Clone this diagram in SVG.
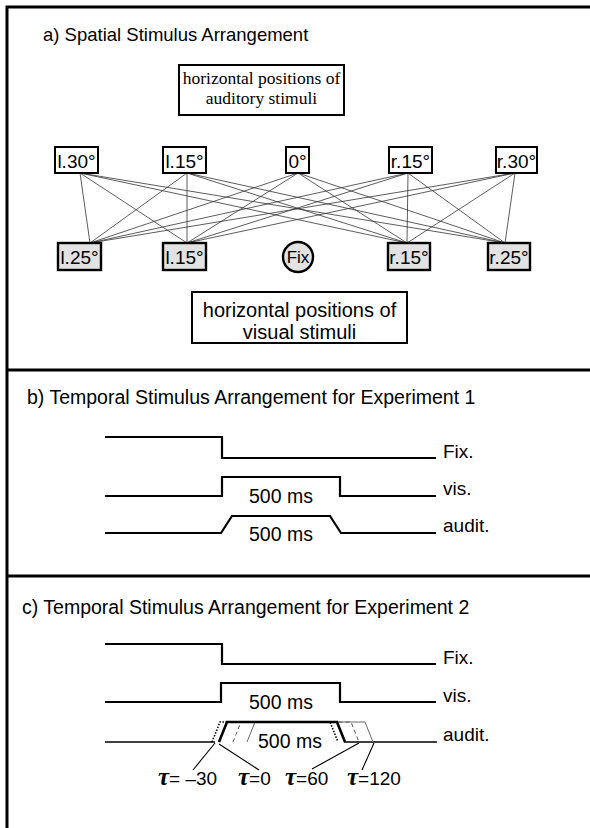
<svg xmlns="http://www.w3.org/2000/svg" width="590" height="828" viewBox="0 0 590 828">
<style>
.sans{font-family:"Liberation Sans",Arial,Helvetica,sans-serif;fill:#000}
.serif{font-family:"Liberation Serif","Times New Roman",serif;fill:#000}
.frame{stroke:#000;stroke-width:3;fill:none}
.aud rect{fill:#fff;stroke:#000;stroke-width:2}
.vis rect,.vis circle{fill:#e2e2e2;stroke:#000;stroke-width:2.4}
.conn line{stroke:#333;stroke-width:0.8}
.wave{fill:none;stroke:#000;stroke-width:2.2}
.lbl{font-size:19px}
.tau{font-family:"Liberation Serif","Times New Roman",serif;font-style:italic;font-weight:bold;font-size:25px}
</style>
<rect width="590" height="828" fill="#fff"/>
<g id="frame">
<path class="frame" d="M7,828 L7,7 L590,7"/>
<line class="frame" x1="7" y1="370" x2="590" y2="370"/>
<line class="frame" x1="7" y1="576" x2="590" y2="576"/>
</g>
<!-- section a -->
<text class="sans" x="43" y="41" font-size="18.5">a) Spatial Stimulus Arrangement</text>
<g id="aud-title">
<rect x="179" y="65" width="165" height="50" fill="#fff" stroke="#000" stroke-width="2"/>
<text class="serif" x="261.5" y="84" font-size="17.5" text-anchor="middle">horizontal positions of</text>
<text class="serif" x="261.5" y="104" font-size="17.5" text-anchor="middle">auditory stimuli</text>
</g>
<g id="connectors" class="conn">
<line x1="80" y1="173" x2="90" y2="243"/>
<line x1="80" y1="173" x2="187" y2="243"/>
<line x1="80" y1="173" x2="407" y2="243"/>
<line x1="80" y1="173" x2="505" y2="243"/>
<line x1="187" y1="173" x2="90" y2="243"/>
<line x1="187" y1="173" x2="187" y2="243"/>
<line x1="187" y1="173" x2="407" y2="243"/>
<line x1="187" y1="173" x2="505" y2="243"/>
<line x1="298" y1="173" x2="90" y2="243"/>
<line x1="298" y1="173" x2="187" y2="243"/>
<line x1="298" y1="173" x2="407" y2="243"/>
<line x1="298" y1="173" x2="505" y2="243"/>
<line x1="408" y1="173" x2="90" y2="243"/>
<line x1="408" y1="173" x2="187" y2="243"/>
<line x1="408" y1="173" x2="407" y2="243"/>
<line x1="408" y1="173" x2="505" y2="243"/>
<line x1="515" y1="173" x2="90" y2="243"/>
<line x1="515" y1="173" x2="187" y2="243"/>
<line x1="515" y1="173" x2="407" y2="243"/>
<line x1="515" y1="173" x2="505" y2="243"/>
</g>
<g id="aud-l30" class="aud"><rect x="55" y="147" width="43" height="26"/><text class="sans lbl" x="76.5" y="168" text-anchor="middle">l.30°</text></g>
<g id="aud-l15" class="aud"><rect x="163" y="147" width="43" height="26"/><text class="sans lbl" x="184.5" y="168" text-anchor="middle">l.15°</text></g>
<g id="aud-0" class="aud"><rect x="286" y="147" width="23" height="26"/><text class="sans lbl" x="297.5" y="168" text-anchor="middle">0°</text></g>
<g id="aud-r15" class="aud"><rect x="389" y="147" width="43" height="26"/><text class="sans lbl" x="410.5" y="168" text-anchor="middle">r.15°</text></g>
<g id="aud-r30" class="aud"><rect x="496" y="147" width="41" height="26"/><text class="sans lbl" x="516.5" y="168" text-anchor="middle">r.30°</text></g>
<g id="vis-l25" class="vis"><rect x="58" y="243" width="43" height="27"/><text class="sans lbl" x="79.5" y="264" text-anchor="middle">l.25°</text></g>
<g id="vis-l15" class="vis"><rect x="163" y="243" width="43" height="27"/><text class="sans lbl" x="184.5" y="264" text-anchor="middle">l.15°</text></g>
<g id="fix" class="vis"><circle cx="298" cy="257" r="15"/><text class="sans" x="298" y="263" font-size="17" text-anchor="middle">Fix</text></g>
<g id="vis-r15" class="vis"><rect x="388" y="243" width="42" height="27"/><text class="sans lbl" x="409" y="264" text-anchor="middle">r.15°</text></g>
<g id="vis-r25" class="vis"><rect x="488" y="243" width="42" height="27"/><text class="sans lbl" x="509" y="264" text-anchor="middle">r.25°</text></g>
<g id="vis-title">
<rect x="192" y="292" width="215" height="51" fill="#fff" stroke="#000" stroke-width="2"/>
<text class="sans" x="299.5" y="317" font-size="20" text-anchor="middle">horizontal positions of</text>
<text class="sans" x="299.5" y="339" font-size="20" text-anchor="middle">visual stimuli</text>
</g>
<!-- section b -->
<text class="sans" x="27" y="404" font-size="19.5">b) Temporal Stimulus Arrangement for Experiment 1</text>
<g id="b-waves">
<polyline class="wave" points="105,437 222,437 222,458 436,458"/>
<polyline class="wave" points="105,496 222,496 222,477 340,477 340,496 436,496"/>
<polyline class="wave" points="105,533 221,533 232,516 330,516 341,533 436,533"/>
<text class="sans" x="443" y="458" font-size="19">Fix.</text>
<text class="sans" x="443" y="495" font-size="19">vis.</text>
<text class="sans" x="443" y="532" font-size="19">audit.</text>
<text class="sans" x="281" y="503" font-size="19.5" text-anchor="middle">500 ms</text>
<text class="sans" x="281" y="541" font-size="19.5" text-anchor="middle">500 ms</text>
</g>
<!-- section c -->
<text class="sans" x="22" y="614" font-size="19.5">c) Temporal Stimulus Arrangement for Experiment 2</text>
<g id="c-waves">
<polyline class="wave" points="105,644 222,644 222,664 436,664"/>
<polyline class="wave" points="105,702 221,702 221,683 340,683 340,702 436,702"/>
<line x1="105" y1="742" x2="215" y2="742" stroke="#000" stroke-width="1.4"/>
<line x1="344" y1="742" x2="437" y2="742" stroke="#000" stroke-width="1.4"/>
<path d="M247,742 L255,722 L365,722 L373,742" fill="none" stroke="#666" stroke-width="1"/>
<path d="M233,742 L241,722 L351,722 L359,742" fill="none" stroke="#555" stroke-width="1" stroke-dasharray="4,3"/>
<path d="M212,742 L220,722 L330,722 L338,742" fill="none" stroke="#000" stroke-width="1.6" stroke-dasharray="1.5,1.5"/>
<path d="M219,742 L227,722 L337,722 L345,742" fill="none" stroke="#000" stroke-width="2.6"/>
<g stroke="#000" stroke-width="1.1">
<line x1="215" y1="743" x2="193" y2="770"/>
<line x1="219" y1="744" x2="259" y2="770"/>
<line x1="359" y1="743" x2="312" y2="769"/>
<line x1="374" y1="743" x2="362" y2="770"/>
</g>
<text class="sans" x="443" y="664" font-size="19">Fix.</text>
<text class="sans" x="443" y="702" font-size="19">vis.</text>
<text class="sans" x="443" y="741" font-size="19">audit.</text>
<text class="sans" x="281" y="709" font-size="19.5" text-anchor="middle">500 ms</text>
<text class="sans" x="290" y="748" font-size="19.5" text-anchor="middle">500 ms</text>
<text class="sans" x="158" y="785" font-size="19"><tspan class="tau">τ</tspan>= –30</text>
<text class="sans" x="238" y="785" font-size="19"><tspan class="tau">τ</tspan>=0</text>
<text class="sans" x="285" y="785" font-size="19"><tspan class="tau">τ</tspan>=60</text>
<text class="sans" x="347" y="785" font-size="19"><tspan class="tau">τ</tspan>=120</text>
</g>
</svg>
